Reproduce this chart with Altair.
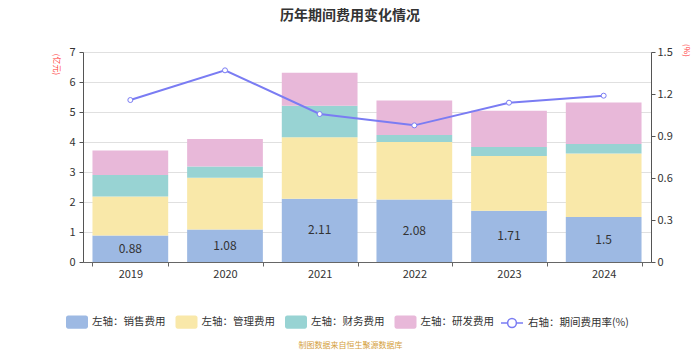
import altair as alt
import pandas as pd

years = ["2019", "2020", "2021", "2022", "2023", "2024"]
sales = [0.88, 1.08, 2.11, 2.08, 1.71, 1.5]
admin = [1.30, 1.73, 2.05, 1.92, 1.82, 2.12]
finance = [0.72, 0.37, 1.05, 0.23, 0.30, 0.31]
rnd = [0.82, 0.92, 1.10, 1.15, 1.21, 1.39]
rate = [1.157, 1.369, 1.057, 0.976, 1.138, 1.188]

series_names = ["左轴：销售费用", "左轴：管理费用", "左轴：财务费用", "左轴：研发费用"]
line_name = "右轴：期间费用率(%)"
bar_colors = ["#9db9e3", "#f9e8a9", "#98d3d3", "#e8b8d9"]
LINE = "#7a7cf3"
FONT = "Noto Sans CJK SC"

rows = []
for i, yr in enumerate(years):
    for k, (name, vals) in enumerate(zip(series_names, [sales, admin, finance, rnd])):
        rows.append({"year": yr, "series": name, "value": vals[i], "order": k})
bar_df = pd.DataFrame(rows)
lab_df = pd.DataFrame({"year": years, "sales": sales})
rate_df = pd.DataFrame({"year": years, "rate": rate, "s": [line_name] * len(years)})

RECT_PATH = ("M-0.8,-0.6H0.8A0.2,0.2,0,0,1,1,-0.4V0.4A0.2,0.2,0,0,1,0.8,0.6"
             "H-0.8A0.2,0.2,0,0,1,-1,0.4V-0.4A0.2,0.2,0,0,1,-0.8,-0.6Z")
LINE_PATH = "M-1,0H-0.4M0.4,0H1M0.4,0A0.4,0.4,0,1,1,-0.4,0A0.4,0.4,0,1,1,0.4,0Z"

xscale = alt.Scale(paddingInner=0.2, paddingOuter=0.1)
xaxis = alt.Axis(
    title="制图数据来自恒生聚源数据库", titleColor="#d4a03c", titleFontSize=8,
    titleFontWeight="normal", titleX=267, titleY=83, titleAlign="center",
    titleBaseline="middle", labelAngle=0, tickBand="extent", tickSize=4,
    labelPadding=2, domainColor="#666", tickColor="#666", labelColor="#333",
    labelFontSize=11, grid=False,
)
yscale_left = alt.Scale(domain=[0, 7])
yaxis_left = alt.Axis(
    title="(亿元)", titleAngle=90, titleX=-28, titleY=12, titleAlign="center",
    titleBaseline="middle", titleColor="#ff3333", titleFontSize=8,
    titleFontWeight="normal", values=[0, 1, 2, 3, 4, 5, 6, 7], grid=True,
    gridColor="#e0e0e0", tickSize=4, labelPadding=4, domainColor="#555",
    tickColor="#555", labelColor="#333", labelFontSize=11,
)
yaxis_right = alt.Axis(
    orient="right", title="(%)", titleAngle=90, titleX=34, titleY=-2,
    titleAlign="center", titleBaseline="middle", titleColor="#ff3333",
    titleFontSize=8, titleFontWeight="normal",
    values=[0, 0.3, 0.6, 0.9, 1.2, 1.5],
    labelExpr="datum.value == 0 ? '0' : format(datum.value, '.1f')",
    grid=False, tickSize=4, labelPadding=2, domainColor="#555",
    tickColor="#555", labelColor="#333", labelFontSize=11,
)

x_enc = alt.X("year:N", sort=years, scale=xscale, axis=xaxis)

bars = alt.Chart(bar_df).mark_bar().encode(
    x=x_enc,
    y=alt.Y("value:Q", stack="zero", scale=yscale_left, axis=yaxis_left),
    color=alt.Color(
        "series:N",
        scale=alt.Scale(domain=series_names, range=bar_colors),
        legend=alt.Legend(
            title=None, orient="none", legendX=-17, legendY=259,
            direction="horizontal", symbolType=RECT_PATH, symbolSize=484,
            symbolStrokeWidth=0, labelFontSize=10.5, labelColor="#333",
            labelOffset=4, columnPadding=9.5, padding=0,
        ),
    ),
    order=alt.Order("order:Q", sort="ascending"),
)

text = alt.Chart(lab_df).transform_calculate(mid="datum.sales / 2").mark_text(
    fontSize=12, color="#333"
).encode(
    x=x_enc,
    y=alt.Y("mid:Q", scale=yscale_left, axis=yaxis_left),
    text=alt.Text("sales:Q", format="~g"),
)

line = alt.Chart(rate_df).mark_line(
    strokeWidth=2,
    point=alt.OverlayMarkDef(filled=False, fill="white", size=25, strokeWidth=1),
).encode(
    x=x_enc,
    y=alt.Y("rate:Q", scale=alt.Scale(domain=[0, 1.5]), axis=yaxis_right),
    color=alt.Color(
        "s:N",
        scale=alt.Scale(domain=[line_name], range=[LINE]),
        legend=alt.Legend(
            title=None, orient="none", legendX=417, legendY=259,
            direction="horizontal", symbolType=LINE_PATH, symbolSize=484,
            symbolStrokeWidth=1.5, symbolFillColor="white",
            labelFontSize=10.5, labelColor="#333", labelOffset=4, padding=0,
        ),
    ),
)

chart = alt.layer(alt.layer(bars, text), line).resolve_scale(
    y="independent", color="independent"
).properties(
    width=568, height=210,
    title=alt.TitleParams(
        text="历年期间费用变化情况", fontSize=14, fontWeight="bold",
        color="#333", offset=21, dx=-17, anchor="middle", font=FONT,
    ),
    padding={"left": 83, "top": 52, "right": 49, "bottom": 88},
    autosize="none",
).configure(font=FONT).configure_view(stroke=None)

chart.save("out.html", embed_options={"renderer": "svg", "actions": False})
